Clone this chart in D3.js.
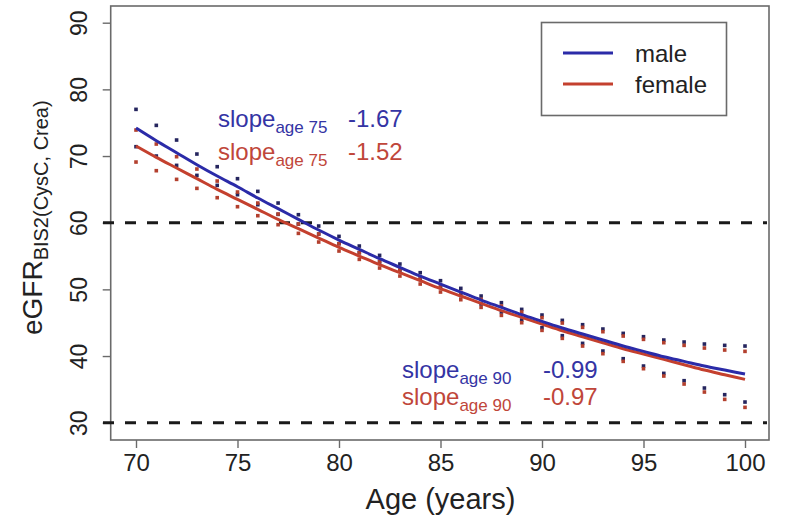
<!DOCTYPE html>
<html>
<head>
<meta charset="utf-8">
<script src="https://cdn.jsdelivr.net/npm/d3@7"></script>
<style>
  body { margin: 0; background: #fff; }
  svg { display: block; }
  text { font-family: "Liberation Sans", Arial, Helvetica, sans-serif; }
</style>
</head>
<body>
<svg id="chart" width="787" height="518"></svg>
<script>
// ages (years)
var ages = [70, 71, 72, 73, 74, 75, 76, 77, 78, 79, 80, 81, 82, 83, 84, 85,
            86, 87, 88, 89, 90, 91, 92, 93, 94, 95, 96, 97, 98, 99, 100];

// fitted eGFR curves
var maleFit = [74.2, 72.3, 70.5, 68.7, 67.0, 65.4, 63.7, 62.1, 60.5, 58.9, 57.4,
               56.0, 54.6, 53.3, 52.0, 50.8, 49.6, 48.4, 47.3, 46.2, 45.2,
               44.2, 43.3, 42.4, 41.5, 40.7, 39.9, 39.2, 38.5, 37.9, 37.3];
var femaleFit = [71.5, 69.8, 68.2, 66.6, 65.0, 63.5, 62.0, 60.5, 59.1, 57.7, 56.3,
                 55.0, 53.7, 52.5, 51.3, 50.1, 49.0, 47.9, 46.8, 45.8, 44.8,
                 43.8, 42.9, 42.0, 41.1, 40.3, 39.5, 38.7, 37.9, 37.2, 36.5];

// half width of the confidence band (dots above / below each curve)
var maleCI = [2.8, 2.3, 1.9, 1.6, 1.4, 1.2, 1.0, 0.85, 0.7, 0.6, 0.55,
              0.5, 0.5, 0.5, 0.5, 0.5, 0.55, 0.6, 0.7, 0.8, 0.95,
              1.15, 1.4, 1.65, 1.9, 2.2, 2.5, 2.9, 3.3, 3.7, 4.2];
var femaleCI = [2.4, 2.0, 1.7, 1.45, 1.25, 1.1, 0.95, 0.8, 0.7, 0.6, 0.55,
                0.5, 0.5, 0.5, 0.5, 0.5, 0.55, 0.6, 0.7, 0.8, 0.95,
                1.15, 1.4, 1.65, 1.9, 2.2, 2.5, 2.9, 3.3, 3.7, 4.2];

var xTicks = [70, 75, 80, 85, 90, 95, 100];
var yTicks = [30, 40, 50, 60, 70, 80, 90];
var refLines = [60, 30];

var legendLabels = ["male", "female"];
var slopeLabels = ["age 75", "age 75", "age 90", "age 90"];
var slopeValues = ["-1.67", "-1.52", "-0.99", "-0.97"];

var blue = "#2b2ba8", red = "#c4402e";
var blueText = "#3434a4", redText = "#c0463a";
var frameColor = "#6a6a6a";

var svg = d3.select("#chart");

var x = d3.scaleLinear().domain([70, 100]).range([136, 745]);
var y = d3.scaleLinear().domain([30, 90]).range([422.7, 22.7]);

// plot frame
var frame = { left: 110.7, right: 769, top: 6, bottom: 440 };
svg.append("rect")
  .attr("x", frame.left).attr("y", frame.top)
  .attr("width", frame.right - frame.left)
  .attr("height", frame.bottom - frame.top)
  .attr("fill", "none")
  .attr("stroke", frameColor)
  .attr("stroke-width", 1.6);

// x axis
var xAxis = svg.append("g")
  .attr("transform", "translate(0," + frame.bottom + ")")
  .call(d3.axisBottom(x).tickValues(xTicks).tickSize(8).tickPadding(6));
xAxis.select(".domain").remove();
xAxis.selectAll(".tick line").attr("stroke", frameColor).attr("stroke-width", 1.4);
xAxis.selectAll(".tick text")
  .attr("font-size", 24).attr("fill", "#222")
  .attr("font-family", "'Liberation Sans', Arial, sans-serif");

// y axis (labels rotated, as in R)
var yAxis = svg.append("g")
  .attr("transform", "translate(" + frame.left + ",0)")
  .call(d3.axisLeft(y).tickValues(yTicks).tickSize(8));
yAxis.select(".domain").remove();
yAxis.selectAll(".tick line").attr("stroke", frameColor).attr("stroke-width", 1.4);
yAxis.selectAll(".tick text").remove();
yAxis.selectAll(".tick").append("text")
  .attr("transform", "translate(-24,0) rotate(-90)")
  .attr("text-anchor", "middle")
  .attr("font-size", 23)
  .attr("fill", "#222")
  .text(function(d) { return d; });

// axis titles
svg.append("text")
  .attr("x", x(85)).attr("y", 509)
  .attr("text-anchor", "middle")
  .attr("font-size", 29)
  .attr("fill", "#222")
  .text("Age (years)");

var yTitle = svg.append("text")
  .attr("transform", "translate(42," + (y(60) - 5) + ") rotate(-90)")
  .attr("text-anchor", "middle")
  .attr("fill", "#222");
yTitle.append("tspan").attr("font-size", 28).text("eGFR");
yTitle.append("tspan").attr("font-size", 20).attr("dy", 6).text("BIS2(CysC, Crea)");

// dashed reference lines
svg.selectAll(".ref")
  .data(refLines)
  .enter()
  .append("line")
  .attr("class", "ref")
  .attr("x1", 103).attr("x2", 767)
  .attr("y1", function(d) { return y(d); })
  .attr("y2", function(d) { return y(d); })
  .attr("stroke", "#1a1a1a")
  .attr("stroke-width", 3)
  .attr("stroke-dasharray", "11,11");

// confidence dots
function dots(fit, ci, color) {
  var pts = [];
  ages.forEach(function(a, i) {
    pts.push({ age: a, v: fit[i] + ci[i] });
    pts.push({ age: a, v: fit[i] - ci[i] });
  });
  svg.append("g").selectAll("rect")
    .data(pts)
    .enter()
    .append("rect")
    .attr("x", function(d) { return x(d.age) - 1.8; })
    .attr("y", function(d) { return y(d.v) - 1.8; })
    .attr("width", 3.6).attr("height", 3.6)
    .attr("fill", color);
}
dots(maleFit, maleCI, "#25255e");
dots(femaleFit, femaleCI, "#b3402e");

// fitted curves
var line = d3.line()
  .x(function(d) { return x(d[0]); })
  .y(function(d) { return y(d[1]); })
  .curve(d3.curveMonotoneX);

svg.append("path")
  .datum(ages.map(function(a, i) { return [a, femaleFit[i]]; }))
  .attr("d", line)
  .attr("fill", "none")
  .attr("stroke", red)
  .attr("stroke-width", 3);

svg.append("path")
  .datum(ages.map(function(a, i) { return [a, maleFit[i]]; }))
  .attr("d", line)
  .attr("fill", "none")
  .attr("stroke", blue)
  .attr("stroke-width", 3);

// slope annotations
var slopePos = [
  { x: 218, y: 127, vx: 348, color: blueText },
  { x: 218, y: 160, vx: 348, color: redText },
  { x: 402, y: 378, vx: 543, color: blueText },
  { x: 402, y: 405, vx: 543, color: redText }
];
slopePos.forEach(function(p, i) {
  var t = svg.append("text")
    .attr("x", p.x).attr("y", p.y)
    .attr("fill", p.color);
  t.append("tspan").attr("font-size", 24).text("slope");
  t.append("tspan").attr("font-size", 17).attr("dy", 6).text(slopeLabels[i]);
  svg.append("text")
    .attr("x", p.vx).attr("y", p.y)
    .attr("fill", p.color)
    .attr("font-size", 24)
    .text(slopeValues[i]);
});

// legend
var legend = svg.append("g");
legend.append("rect")
  .attr("x", 541.5).attr("y", 22.5)
  .attr("width", 185).attr("height", 93)
  .attr("fill", "#fff")
  .attr("stroke", frameColor)
  .attr("stroke-width", 1.6);
[blue, red].forEach(function(c, i) {
  var ly = 53 + i * 31;
  legend.append("line")
    .attr("x1", 563).attr("x2", 613)
    .attr("y1", ly).attr("y2", ly)
    .attr("stroke", c).attr("stroke-width", 3);
  legend.append("text")
    .attr("x", 635).attr("y", ly + 9)
    .attr("font-size", 24)
    .attr("fill", "#222")
    .text(legendLabels[i]);
});
</script>
</body>
</html>
